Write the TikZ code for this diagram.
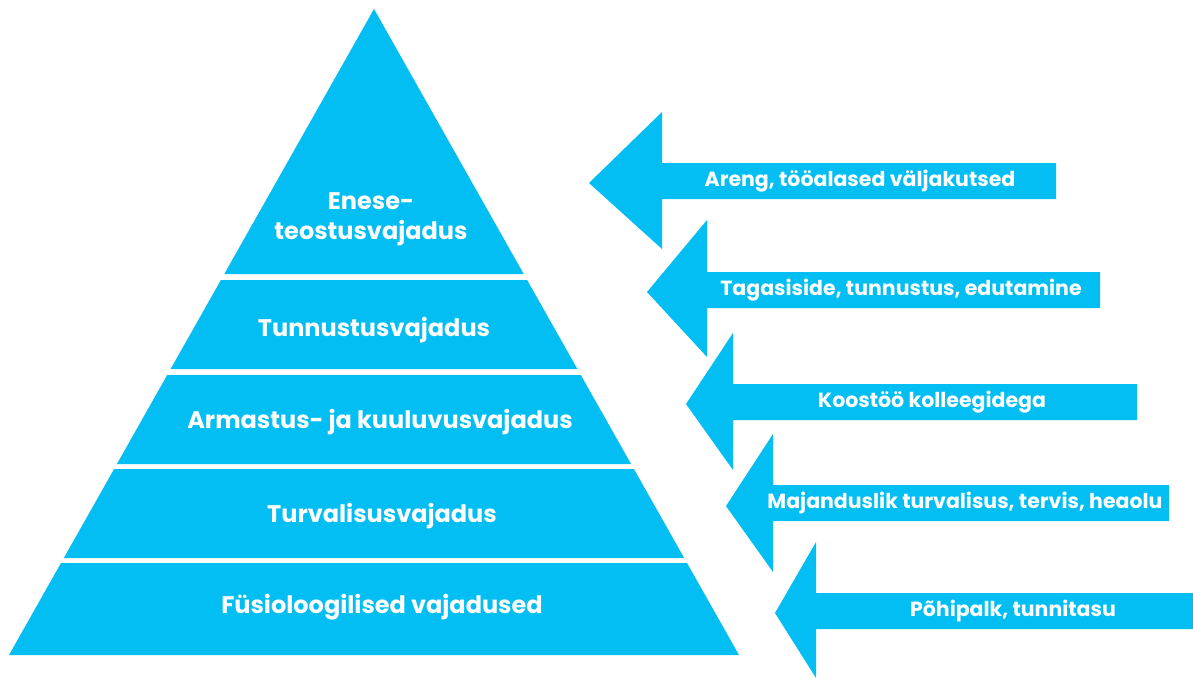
\documentclass[tikz,border=0pt]{standalone}
\usepackage{fontspec}
\setmainfont{Poppins}
\definecolor{skyb}{RGB}{3,190,242}
\begin{document}
\begin{tikzpicture}[x=1pt,y=-1pt,
  band/.style={fill=skyb,draw=none},
  arr/.style={fill=skyb,draw=none},
  ptext/.style={text=white,font=\fontsize{24}{30}\selectfont\bfseries,align=center,inner sep=0pt},
  atext/.style={text=white,font=\fontsize{20.5}{24}\selectfont\bfseries,inner sep=0pt}]
\useasboundingbox (0,0) rectangle (1193,678);
% pyramid: apex (374,9), base (9,655)-(739,655)
\pgfmathsetmacro{\k}{365/646}
\foreach \ya/\yb in {9/274,280/369,375/464,469/558,563/655}{
  \pgfmathsetmacro{\xa}{374-\k*(\ya-9)}
  \pgfmathsetmacro{\xb}{374-\k*(\yb-9)}
  \pgfmathsetmacro{\xc}{748-\xb}
  \pgfmathsetmacro{\xd}{748-\xa}
  \fill[band] (\xa,\ya) -- (\xb,\yb) -- (\xc,\yb) -- (\xd,\ya) -- cycle;
}
\node[ptext] (p1) at (371,219) {Enese-\\teostusvajadus};
\node[ptext] (p2) at (374,330) {Tunnustusvajadus};
\node[ptext] (p3) at (380,422) {Armastus- ja kuuluvusvajadus};
\node[ptext] (p4) at (382,516) {Turvalisusvajadus};
\node[ptext] (p5) at (382,607) {Füsioloogilised vajadused};
% arrows
\fill[arr] (589,183) -- (662,112) -- (662,163) -- (1056,163) -- (1056,199) -- (662,199) -- (662,249) -- cycle;
\fill[arr] (647,292) -- (707,220) -- (707,272) -- (1100,272) -- (1100,308) -- (707,308) -- (707,357) -- cycle;
\fill[arr] (686,404) -- (733,333) -- (733,384) -- (1137,384) -- (1137,420) -- (733,420) -- (733,470) -- cycle;
\fill[arr] (726,506) -- (773,434) -- (773,485) -- (1169,485) -- (1169,521) -- (773,521) -- (773,572) -- cycle;
\fill[arr] (775,613) -- (816,542) -- (816,593) -- (1193,593) -- (1193,629) -- (816,629) -- (816,678) -- cycle;
\node[atext] (a1) at (860,181) {Areng, tööalased väljakutsed};
\node[atext] (a2) at (901,290) {Tagasiside, tunnustus, edutamine};
\node[atext] (a3) at (932,402) {Koostöö kolleegidega};
\node[atext] (a4) at (965,503) {Majanduslik turvalisus, tervis, heaolu};
\node[atext] (a5) at (1013,611) {Põhipalk, tunnitasu};
\end{tikzpicture}
\end{document}
